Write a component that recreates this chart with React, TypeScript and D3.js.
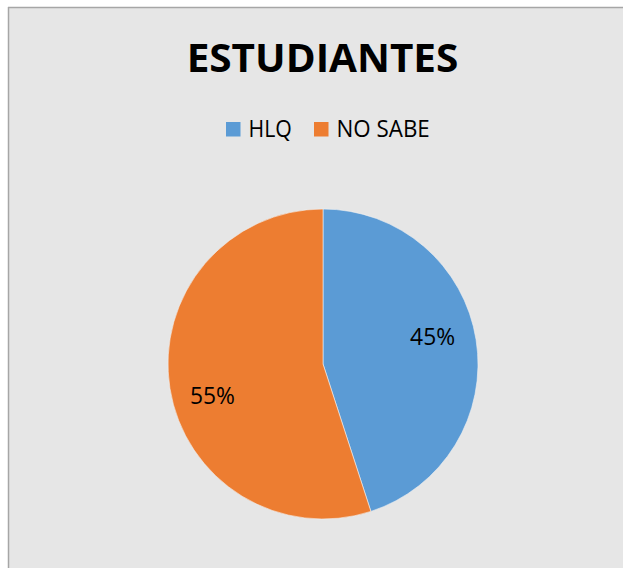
import React from "react";
import * as d3 from "d3";

const categories = ["HLQ", "NO SABE"];
const values = [45, 55];
const colors = ["#5B9BD5", "#ED7D31"];
const title = "ESTUDIANTES";

const W = 623;
const H = 568;

export default function App() {
  const cx = 323;
  const cy = 364;
  const r = 155;
  const total = d3.sum(values);
  const pie = d3.pie<number>().sort(null).startAngle(0).endAngle(2 * Math.PI);
  const arcs = pie(values);
  const arc = d3.arc<d3.PieArcDatum<number>>().innerRadius(0).outerRadius(r);
  const labelArc = d3.arc<d3.PieArcDatum<number>>().innerRadius(113).outerRadius(113);
  const nudges = [
    [-2, -10],
    [1, 14],
  ];
  const legendX = [226, 314];
  const legendTextW = [43.3, 93.3];
  const font = "'Open Sans', 'Noto Sans', sans-serif";

  return (
    <div style={{ position: "absolute", left: 0, top: 0, width: W, height: H, background: "#fff" }}>
      <svg width={W} height={H} style={{ display: "block" }}>
        <rect x={8} y={7} width={W} height={H} fill="#E6E6E6" />
        <line x1={8} y1={7.5} x2={W} y2={7.5} stroke="#A6A6A6" strokeWidth={1.5} />
        <line x1={8.5} y1={7} x2={8.5} y2={H} stroke="#A6A6A6" strokeWidth={1.5} />
        <text
          x={322.5}
          y={71.7}
          textAnchor="middle"
          fontFamily={font}
          fontWeight="bold"
          fontSize={40}
          textLength={271.7}
          lengthAdjust="spacingAndGlyphs"
          fill="#000"
        >
          {title}
        </text>
        {categories.map((c, i) => (
          <g key={c}>
            <rect x={legendX[i]} y={122} width={14.5} height={14.5} fill={colors[i]} />
            <text
              x={legendX[i] + 22.5}
              y={136.7}
              fontFamily={font}
              fontSize={23}
              textLength={legendTextW[i]}
              lengthAdjust="spacingAndGlyphs"
              fill="#000"
            >
              {c}
            </text>
          </g>
        ))}
        <g transform={`translate(${cx},${cy})`}>
          {arcs.map((a, i) => (
            <path key={i} d={arc(a) || ""} fill={colors[i]} stroke="#F2F2F2" strokeWidth={0.6} />
          ))}
          {arcs.map((a, i) => {
            const [lx, ly] = labelArc.centroid(a);
            const pct = Math.round((values[i] / total) * 100) + "%";
            return (
              <text
                key={"l" + i}
                x={lx + nudges[i][0]}
                y={ly + nudges[i][1] + 8.3}
                textAnchor="middle"
                fontFamily={font}
                fontSize={23}
                textLength={45}
                lengthAdjust="spacingAndGlyphs"
                fill="#000"
              >
                {pct}
              </text>
            );
          })}
        </g>
      </svg>
    </div>
  );
}
